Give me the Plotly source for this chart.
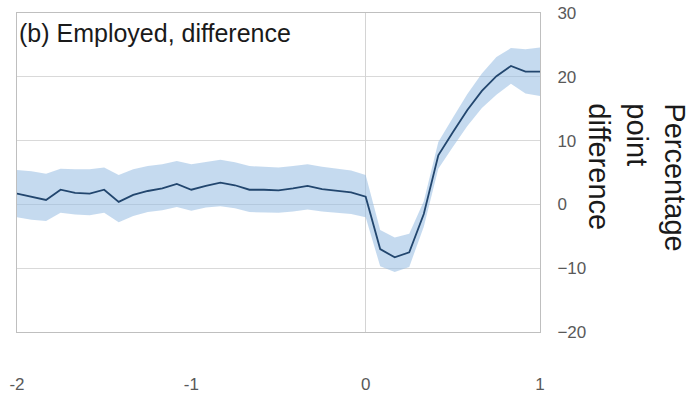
import plotly.graph_objects as go

# Months relative to event (years), monthly steps from -2 to +1
months = list(range(37))
x_years = [-2 + m / 12 for m in months]

diff = [1.7, 1.2, 0.7, 2.3, 1.8, 1.7, 2.3, 0.4, 1.5, 2.1, 2.5, 3.2, 2.3,
        2.9, 3.4, 3.0, 2.3, 2.3, 2.2, 2.5, 2.9, 2.4, 2.2, 1.9, 1.2,
        -7.0, -8.3, -7.5, -1.5, 7.7, 11.3, 14.8, 17.8, 20.1, 21.7, 20.8, 20.8]
upper = [5.4, 5.2, 4.8, 5.6, 5.5, 5.5, 5.8, 4.6, 5.5, 6.0, 6.3, 6.8, 6.3,
         6.6, 7.0, 6.6, 6.0, 5.9, 5.8, 6.0, 6.3, 5.9, 5.6, 5.3, 4.6,
         -4.0, -5.2, -4.6, 0.5, 9.8, 13.6, 17.3, 20.5, 23.1, 24.5, 24.3, 24.6]
lower = [-2.0, -2.4, -2.6, -1.3, -1.6, -1.7, -1.3, -2.8, -1.8, -1.2, -0.9, -0.4, -1.0,
         -0.5, -0.3, -0.6, -1.2, -1.2, -1.3, -1.1, -0.8, -1.1, -1.3, -1.5, -2.0,
         -9.7, -10.6, -9.8, -3.5, 5.6, 9.0, 12.3, 15.1, 17.2, 18.9, 17.4, 17.0]

x_ticks = [-2, -1, 0, 1]
y_ticks = [-20, -10, 0, 10, 20, 30]

title_text = "(b) Employed, difference"
y_title = "Percentage<br>point<br>difference"

FONT = "Liberation Sans, Arial, sans-serif"

fig = go.Figure()
fig.add_trace(go.Scatter(x=x_years, y=upper, mode="lines", line=dict(width=0),
                         hoverinfo="skip", showlegend=False))
fig.add_trace(go.Scatter(x=x_years, y=lower, mode="lines", line=dict(width=0),
                         fill="tonexty", fillcolor="rgba(150,188,226,0.55)",
                         hoverinfo="skip", showlegend=False))
fig.add_trace(go.Scatter(x=x_years, y=diff, mode="lines",
                         line=dict(color="#22466e", width=1.8), showlegend=False))

fig.update_layout(
    width=696, height=397,
    margin=dict(l=17, r=156, t=13, b=65, autoexpand=False),
    paper_bgcolor="white", plot_bgcolor="white",
    font=dict(family=FONT, color="#595959", size=17),
    showlegend=False,
)
fig.update_xaxes(
    range=[-2, 1], tickvals=x_ticks, ticktext=[str(v) for v in x_ticks],
    showgrid=False, zeroline=True, zerolinecolor="#d4d4d4", zerolinewidth=1,
    showline=True, linecolor="#bfbfbf", linewidth=1, mirror=True,
    ticks="", ticklabelstandoff=37, tickfont=dict(size=17, color="#595959"),
    automargin=False, ticklabeloverflow="allow",
)
fig.update_yaxes(
    range=[-20, 30], tickvals=y_ticks, side="right",
    showgrid=True, gridcolor="#d9d9d9", gridwidth=1,
    zeroline=True, zerolinecolor="#d9d9d9", zerolinewidth=1,
    showline=True, linecolor="#bfbfbf", linewidth=1, mirror=True,
    ticks="", ticklabelstandoff=13, tickfont=dict(size=17, color="#595959"),
    automargin=False, ticklabeloverflow="allow",
)

fig.add_annotation(text=title_text, xref="paper", yref="paper", x=0, y=0.937,
                   xanchor="left", yanchor="middle", showarrow=False,
                   font=dict(family=FONT, size=25, color="#1a1a1a"))
fig.add_annotation(text=y_title, xref="paper", yref="paper", x=1.186, y=0.484,
                   xanchor="center", yanchor="middle", showarrow=False,
                   textangle=90, align="left",
                   font=dict(family=FONT, size=29, color="#1a1a1a"))

fig.write_html("out.html", config={"displayModeBar": False},
               post_script="document.body.style.margin='0';")
